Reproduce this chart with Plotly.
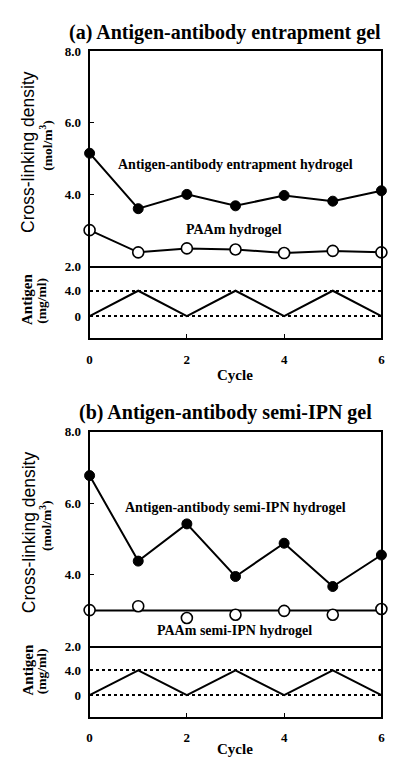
import plotly.graph_objects as go

# ---------------- data ----------------
cycles = [0, 1, 2, 3, 4, 5, 6]
a_complex = [5.15, 3.60, 4.00, 3.68, 3.97, 3.81, 4.10]
a_paam = [3.00, 2.38, 2.49, 2.46, 2.36, 2.42, 2.38]
a_antigen = [0, 4.0, 0, 4.0, 0, 4.0, 0]
b_complex = [6.77, 4.38, 5.42, 3.95, 4.88, 3.67, 4.55]
b_paam = [3.01, 3.12, 2.79, 2.88, 2.99, 2.88, 3.04]
b_paam_fit_x = [0, 6]
b_paam_fit = [3.0, 3.0]
b_antigen = [0, 4.0, 0, 4.0, 0, 4.0, 0]

density_ticks = [2, 4, 6, 8]
density_ticktext = ["2.0", "4.0", "6.0", "8.0"]
antigen_ticks = [0, 4]
antigen_ticktext = ["0", "4.0"]
cycle_ticks = [0, 2, 4, 6]
cycle_ticktext = ["0", "2", "4", "6"]

W, H = 400, 758
SERIF = "Liberation Serif"
SANS = "Liberation Sans"


def px(x):
    return x / W


def py(y):
    return 1 - y / H


fig = go.Figure()

BLACK = "black"
filled = dict(symbol="circle", size=10, color=BLACK, line=dict(color=BLACK, width=1))
opened = dict(symbol="circle", size=11, color="white", line=dict(color=BLACK, width=1.6))


def add_panel(complex_vals, paam_vals, antigen_vals, xa, ya, xb, yb, connect_paam):
    fig.add_trace(go.Scatter(x=cycles, y=complex_vals, mode="lines+markers",
                             line=dict(color=BLACK, width=2), marker=filled,
                             xaxis=xa, yaxis=ya, cliponaxis=False, showlegend=False))
    fig.add_trace(go.Scatter(x=cycles, y=paam_vals,
                             mode="lines+markers" if connect_paam else "markers",
                             line=dict(color=BLACK, width=2), marker=opened,
                             xaxis=xa, yaxis=ya, cliponaxis=False, showlegend=False))
    fig.add_trace(go.Scatter(x=cycles, y=antigen_vals, mode="lines",
                             line=dict(color=BLACK, width=2),
                             xaxis=xb, yaxis=yb, cliponaxis=False, showlegend=False))


# panel b fitted line for PAAm first (drawn under markers)
fig.add_trace(go.Scatter(x=b_paam_fit_x, y=b_paam_fit, mode="lines",
                         line=dict(color=BLACK, width=2),
                         xaxis="x3", yaxis="y3", cliponaxis=False, showlegend=False))

add_panel(a_complex, a_paam, a_antigen, "x", "y", "x2", "y2", True)
add_panel(b_complex, b_paam, b_antigen, "x3", "y3", "x4", "y4", False)

tickfont = dict(family=SERIF, size=13, color=BLACK, weight="bold")
xdom = [px(80), px(377)]

# pixel layout for each panel
panels = [
    dict(top=37, mid=256, bot=330),
    dict(top=425, mid=644, bot=716),
]

axis_common = dict(showline=True, linecolor=BLACK, linewidth=2,
                   zeroline=False, tickfont=tickfont, tickcolor=BLACK)

for i, p in enumerate(panels):
    xu = "xaxis" if i == 0 else "xaxis3"
    yu = "yaxis" if i == 0 else "yaxis3"
    xl = "xaxis2" if i == 0 else "xaxis4"
    yl = "yaxis2" if i == 0 else "yaxis4"
    yu_id = "y" if i == 0 else "y3"
    xu_id = "x" if i == 0 else "x3"
    yl_id = "y2" if i == 0 else "y4"
    xl_id = "x2" if i == 0 else "x4"
    fig.update_layout(**{
        xu: dict(domain=xdom, anchor=yu_id, range=[0, 6], showticklabels=False,
                 ticks="", showgrid=False, mirror=True, **axis_common),
        yu: dict(domain=[py(p["mid"]), py(p["top"])], anchor=xu_id, range=[2, 8],
                 tickvals=density_ticks, ticktext=density_ticktext, ticks="inside",
                 ticklen=4, ticklabelstandoff=4, showgrid=False, mirror=True,
                 **axis_common),
        xl: dict(domain=xdom, anchor=yl_id, range=[0, 6], tickvals=cycle_ticks,
                 ticktext=cycle_ticktext, ticks="inside", ticklen=4,
                 ticklabelstandoff=8, showgrid=False, mirror=False, **axis_common),
        yl: dict(domain=[py(p["bot"]), py(p["mid"])], anchor=xl_id, range=[-3.5, 7.9],
                 tickvals=antigen_ticks, ticktext=antigen_ticktext, ticks="",
                 ticklabelstandoff=4, showgrid=True, gridcolor=BLACK, gridwidth=1.5,
                 griddash="dot", mirror=True, **axis_common),
    })

ann = []


def text(x, y, s, size, family=SERIF, bold=True, angle=0, xanchor="center"):
    ann.append(dict(x=px(x), y=py(y), xref="paper", yref="paper", text=s,
                    showarrow=False, textangle=angle, xanchor=xanchor, yanchor="middle",
                    font=dict(family=family, size=size, color=BLACK,
                              weight="bold" if bold else "normal")))


for off, title, tx, lab1, lab1y, lab2, lab2y, anty, cyc in [
    (0, "(a) Antigen-antibody entrapment gel", 57, "Antigen-antibody entrapment hydrogel",
     153, "PAAm hydrogel", 219, 290, 367),
    (388, "(b) Antigen-antibody semi-IPN gel", 67, "Antigen-antibody semi-IPN hydrogel",
     114, "PAAm semi-IPN hydrogel", 240, 280, 361),
]:
    text(tx, 18 + off, title, 20, xanchor="left")
    text(18, 140 + off, "Cross-linking density", 17.5, family=SANS, bold=False, angle=-90)
    text(36, 133 + off, "(mol/m<sup>3</sup>)", 13.5, angle=-90)
    text(17, anty + off, "Antigen", 15, angle=-90)
    text(31, anty + 1 + off, "(mg/ml)", 13.5, angle=-90)
    text(228, lab1y + off, lab1, 14)
    text(227, lab2y + off, lab2, 14)
    text(228, cyc + off, "Cycle", 15)

fig.update_layout(width=W, height=H, margin=dict(l=0, r=0, t=0, b=0),
                  paper_bgcolor="white", plot_bgcolor="white", annotations=ann,
                  showlegend=False)

fig.write_html("out.html")
